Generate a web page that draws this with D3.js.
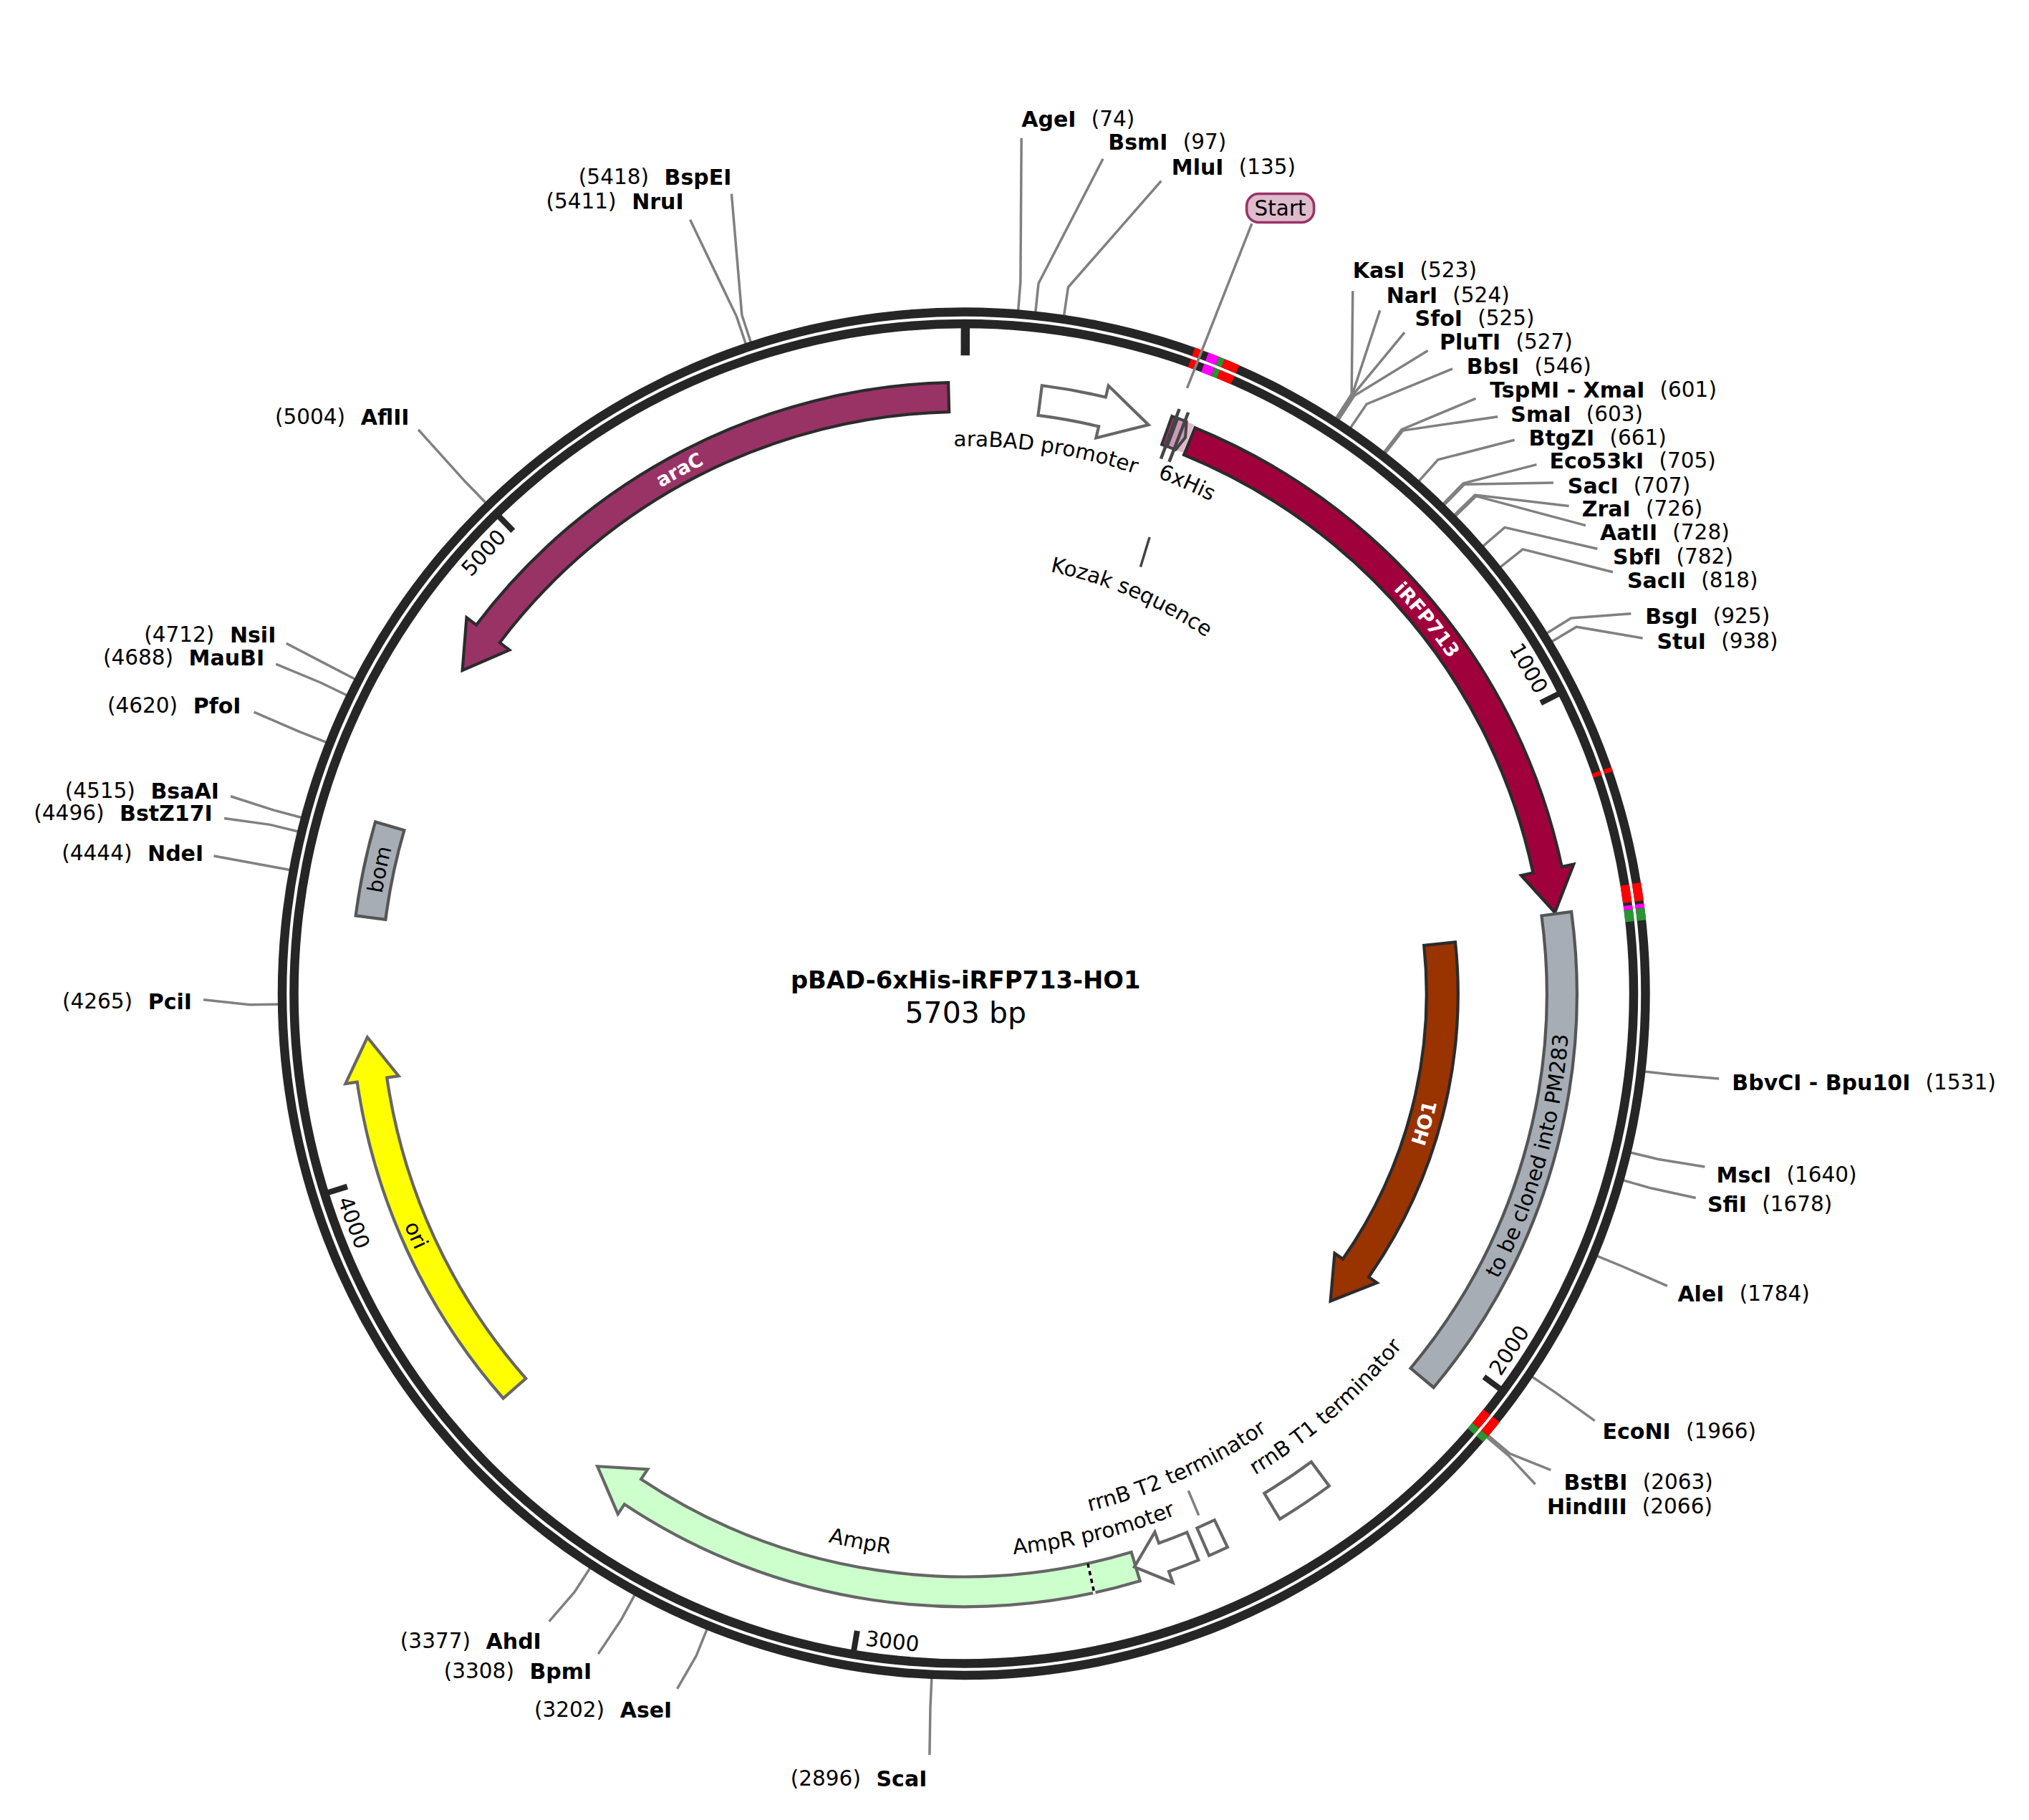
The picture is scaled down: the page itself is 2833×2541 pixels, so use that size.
<!DOCTYPE html>
<html><head><meta charset="utf-8">
<script src="https://cdnjs.cloudflare.com/ajax/libs/d3/7.8.5/d3.min.js"></script>
<style>html,body{margin:0;padding:0;background:#fff}svg{display:block}text{font-family:"DejaVu Sans",Verdana,sans-serif;fill:#000}</style>
</head><body><svg id="map" width="2833" height="2541"></svg>
<script>
// ---- data (base pairs) ----
const plasmidName = "pBAD-6xHis-iRFP713-HO1";
const plasmidLength = 5703;
const tickValues = [0, 1000, 2000, 3000, 4000, 5000];
const siteNames = ["AgeI","BsmI","MluI","KasI","NarI","SfoI","PluTI","BbsI","TspMI - XmaI","SmaI","BtgZI","Eco53kI","SacI","ZraI","AatII","SbfI","SacII","BsgI","StuI","BbvCI - Bpu10I","MscI","SfiI","AleI","EcoNI","BstBI","HindIII","ScaI","AseI","BpmI","AhdI","PciI","NdeI","BstZ17I","BsaAI","PfoI","MauBI","NsiI","AflII","NruI","BspEI"];
const sitePositions = [74,97,135,523,524,525,527,546,601,603,661,705,707,726,728,782,818,925,938,1531,1640,1678,1784,1966,2063,2066,2896,3202,3308,3377,4265,4444,4496,4515,4620,4688,4712,5004,5411,5418];
const featureNames = ["iRFP713","HO1","to be cloned into PM283","araC","bom","ori","AmpR","araBAD promoter","rrnB T1 terminator","rrnB T2 terminator","AmpR promoter"];
const featureFrom  = [352,1331,1304,5680,4535,3623,2587,116,2272,2448,2495];
const featureTo    = [1302,2059,2059,4797,4393,4211,3450,285,2360,2478,2589];
const featureHead  = [66,79,0,68,0,65,66,73,0,0,47];
const signalPeptideEnd = 2657;
const markerFrom = [312,331,346,354,1120,1278,1306,1312,2038,2062];
const markerTo   = [322,346,354,375,1126,1302,1312,1328,2062,2072];
const markerKinds = ["red","magenta","green","red","red","red","magenta","green","red","green"];

// ---- layout & style (separate from the data) ----
const cx = 1345.75, cy = 1387.3;
const siteAnchors = [
 ["s",789,92,789,107],["s",856,110,852,123],["s",905,129,897,140],["s",1045,209,1045,225],["s",1071,228,1066,240],["s",1093,246,1085,257],["s",1112,264,1103,271],["s",1133,283,1122,285],["s",1151,301,1140,308],["s",1167,320,1157,322],["s",1181,338,1170,340],["s",1197,356,1187,359],["s",1211,375,1200,373],["s",1222,393,1212,391],["s",1236,411,1225,406],["s",1246,430,1234,424],["s",1257,448,1246,442],["s",1271,476,1260,474],["s",1280,495,1269,493],["s",1338,836,1328,833],["s",1326,907,1317,901],["s",1319,930,1310,925],["s",1296,999,1288,993],["s",1238,1105,1232,1097],["s",1208,1144,1198,1135],["s",1195,1163,1186,1146],
 ["e",716,1373,718,1355],["e",519,1320,523,1304],["e",457,1290,462,1277],["e",418,1267,424,1252],["e",148,773,157,772],["e",157,659,165,661],["e",164,628,173,632],["e",169,611,178,615],["e",186,545,196,550],["e",204,508,213,513],["e",213,490,221,497],["e",316,322,323,332],["e",528,156,533,170],["e",565,137,565,150]];
const featureStyle = [
 {fill:"#a0003c",stroke:"#2b2b2b",r:833,la:51.1,lr:833,tc:"#fff",fw:"bold"},
 {fill:"#993300",stroke:"#2b2b2b",r:668,hw:22,hh:36,la:105.7,lr:668,tc:"#fff",fw:"bold"},
 {fill:"#a6adb5",stroke:"#555",r:835,hw:21,la:106,lr:835},
 {fill:"#993366",stroke:"#2b2b2b",r:833,la:331.5,lr:833,tc:"#fff",fw:"bold"},
 {fill:"#a6adb5",stroke:"#555",r:835,hw:21,la:282,lr:835},
 {fill:"#ffff00",stroke:"#666",r:835,hw:21,la:246.2,lr:835},
 {fill:"#ccffcc",stroke:"#666",r:835,hw:21,la:190.7,lr:778},
 {fill:"#fff",stroke:"#666",r:835,hw:21,la:8.6,lr:775},
 {fill:"#fff",stroke:"#666",r:835,hw:21,la:138.8,lr:775},
 {fill:"#fff",stroke:"#666",r:835,hw:21,la:155.8,lr:733},
 {fill:"#fff",stroke:"#666",r:835,hw:21,la:166.4,lr:775}];
const markerColor = {red:"#ff0000",magenta:"#ff00ff",green:"#2b9432"};
const ringDark = "#262626", fsLabel = 29.5, fsBoldLabel = 27, fsSite = 30;

const svg = d3.select("#map");
const g = svg.append("g").attr("transform",`translate(${cx},${cy})`);
const deg = d3.scaleLinear().domain([0,plasmidLength]).range([0,360]);
const rad = d => d*Math.PI/180;
const pol = (a,r) => [r*Math.sin(rad(a)), -r*Math.cos(rad(a))];
const arcGen = d3.arc();
const layX = v => 1.8071*v+0.4, layY = v => 1.8088*v-0.7;

// site leaders beneath the ring
siteNames.forEach((n,i)=>{
  const a = deg(sitePositions[i]) - 0.12, [side,lx,ly,ex,ey] = siteAnchors[i];
  const p0 = pol(a,950), p1 = pol(a,997), p2 = [layX(ex)-cx, layY(ey)-cy];
  g.append("path").attr("d",d3.line()([p0,p1,p2])).attr("fill","none").attr("stroke","#808080").attr("stroke-width",3.5);
  const t = g.append("text").attr("x",layX(lx)-cx).attr("y",layY(ly)-cy).attr("dominant-baseline","central").attr("font-size",fsSite).attr("text-anchor",side==="s"?"start":"end");
  if(side==="s"){
    t.append("tspan").attr("font-weight","bold").text(n);
    t.append("tspan").attr("dx","0.72em").attr("font-size",29.5).text(`(${sitePositions[i]})`);
  } else {
    t.append("tspan").attr("font-size",29.5).text(`(${sitePositions[i]})`);
    t.append("tspan").attr("dx","0.72em").attr("font-weight","bold").text(n);
  }
});

// backbone ring
[[945.5,958],[929,941.5]].forEach(([ri,ro])=>{
  g.append("path").attr("d",arcGen({innerRadius:ri,outerRadius:ro,startAngle:0,endAngle:2*Math.PI})).attr("fill",ringDark);
  markerFrom.forEach((f,i)=>{
    g.append("path").attr("d",arcGen({innerRadius:ri,outerRadius:ro,startAngle:rad(deg(f)),endAngle:rad(deg(markerTo[i]))})).attr("fill",markerColor[markerKinds[i]]);
  });
});

// ticks
tickValues.forEach(v=>{
  const a = deg(v)+0.13, first = v===0;
  g.append("line").attr("x1",pol(a,930)[0]).attr("y1",pol(a,930)[1])
    .attr("x2",pol(a,first?891:902)[0]).attr("y2",pol(a,first?891:902)[1])
    .attr("stroke",ringDark).attr("stroke-width",first?12.5:8);
  if(first) return;
  const la = a-3.2, [x,y] = pol(la,910), flip = la>90&&la<270;
  g.append("text").attr("transform",`translate(${x},${y}) rotate(${flip?la-180:la})`)
    .attr("text-anchor","middle").attr("dominant-baseline","central").attr("font-size",fsLabel).text(v);
});

// arc helper in clockwise degrees
function arcTo(p,r,a0,a1){
  p.arc(0,0,r,rad(a0-90),rad(a1-90),a1<a0);
}
function featurePath(from,to,head,r,hw,hh){
  const a0=deg(from), a1=deg(to), dir=a1>a0?1:-1, h=deg(head)*dir, base=a1-h;
  const p=d3.path(), s=pol(a0,r+hw); p.moveTo(s[0],s[1]);
  if(head>0){
    arcTo(p,r+hw,a0,base);
    const b=pol(base,r+hh), t=pol(a1,r), c=pol(base,r-hh);
    p.lineTo(b[0],b[1]); p.lineTo(t[0],t[1]); p.lineTo(c[0],c[1]);
    const d=pol(base,r-hw); p.lineTo(d[0],d[1]);
    arcTo(p,r-hw,base,a0);
  } else {
    arcTo(p,r+hw,a0,a1);
    const d=pol(a1,r-hw); p.lineTo(d[0],d[1]);
    arcTo(p,r-hw,a1,a0);
  }
  p.closePath();
  return p.toString();
}
featureNames.forEach((n,i)=>{
  const s=featureStyle[i];
  g.append("path").attr("d",featurePath(featureFrom[i],featureTo[i],featureHead[i],s.r,s.hw||20.5,s.hh||37.5))
    .attr("fill",s.fill).attr("stroke",s.stroke).attr("stroke-width",4.2).attr("stroke-linejoin","miter");
});
// signal-peptide divider
{
  const a=deg(signalPeptideEnd);
  g.append("line").attr("x1",pol(a,814)[0]).attr("y1",pol(a,814)[1]).attr("x2",pol(a,858)[0]).attr("y2",pol(a,858)[1])
    .attr("stroke","#fff").attr("stroke-width",3.5);
  g.append("line").attr("x1",pol(a,814)[0]).attr("y1",pol(a,814)[1]).attr("x2",pol(a,858)[0]).attr("y2",pol(a,858)[1])
    .attr("stroke","#000").attr("stroke-width",3.5).attr("stroke-dasharray","6 5");
}

// 6xHis / start feature
g.append("path").attr("d",arcGen({innerRadius:815,outerRadius:857,startAngle:rad(deg(320)),endAngle:rad(deg(349))})).attr("fill","#ddb8cc");
g.append("path").attr("d",arcGen({innerRadius:815,outerRadius:857,startAngle:rad(deg(314)),endAngle:rad(deg(322))})).attr("fill","#993366").attr("stroke","#333").attr("stroke-width",4);
g.append("path").attr("d",featurePath(323,344,7,836,21,21)).attr("fill","#cc99b8").attr("stroke","#444").attr("stroke-width",4);
[320.5,334.5].forEach(b=>{
  const a=deg(b);
  g.append("line").attr("x1",pol(a,796)[0]).attr("y1",pol(a,796)[1]).attr("x2",pol(a,870)[0]).attr("y2",pol(a,870)[1]).attr("stroke","#444").attr("stroke-width",4.5);
});

// curved labels
let uid=0;
function arcLabel(text,a,r,opts={}){
  const fs=opts.fs||fsLabel, flip=a>90&&a<270, br=flip? r+0.36*fs : r-0.36*fs;
  const p=d3.path(), s=pol(flip?a+70:a-70,br); p.moveTo(s[0],s[1]);
  if(flip) arcTo(p,br,a+70,a-70); else arcTo(p,br,a-70,a+70);
  const id="lp"+(uid++);
  g.append("path").attr("id",id).attr("d",p.toString()).attr("fill","none");
  const t=g.append("text").attr("font-size",fs).style("fill",opts.color||"#000").attr("font-weight",opts.weight||"normal").attr("text-anchor","middle");
  t.append("textPath").attr("href","#"+id).attr("startOffset","50%").text(text);
}
featureNames.forEach((n,i)=>{const s=featureStyle[i]; arcLabel(n,s.la,s.lr,{color:s.tc,weight:s.fw,fs:s.fw?fsBoldLabel:fsLabel});});
arcLabel("6xHis",23.6,780);
arcLabel("Kozak sequence",22.9,612);

// short leader ticks
const toG = ([x,y]) => [layX(x)-cx,layY(y)-cy];
g.append("path").attr("d",d3.line()([[888,415],[881,438]].map(toG))).attr("stroke","#444").attr("stroke-width",3.5);
g.append("path").attr("d",d3.line()([[918,1151],[926,1170]].map(toG))).attr("stroke","#808080").attr("stroke-width",3.5);

// Start flag
g.append("path").attr("d",d3.line()([[967,173],[917,300]].map(toG))).attr("stroke","#808080").attr("stroke-width",3.5);
svg.append("rect").attr("x",layX(989)-47).attr("y",layY(161)-20).attr("width",94).attr("height",40).attr("rx",17)
  .attr("fill","#ddbbcc").attr("stroke","#993366").attr("stroke-width",3.5);
svg.append("text").attr("x",layX(989)).attr("y",layY(161)).attr("text-anchor","middle").attr("dominant-baseline","central").attr("font-size",fsLabel).text("Start");

// centre title
svg.append("text").attr("x",cx+2.5).attr("y",layY(757)).attr("text-anchor","middle").attr("dominant-baseline","central").attr("font-size",33.8).attr("font-weight","bold").text(plasmidName);
svg.append("text").attr("x",cx+2.5).attr("y",layY(782)).attr("text-anchor","middle").attr("dominant-baseline","central").attr("font-size",41).text(plasmidLength+" bp");
</script></body></html>
